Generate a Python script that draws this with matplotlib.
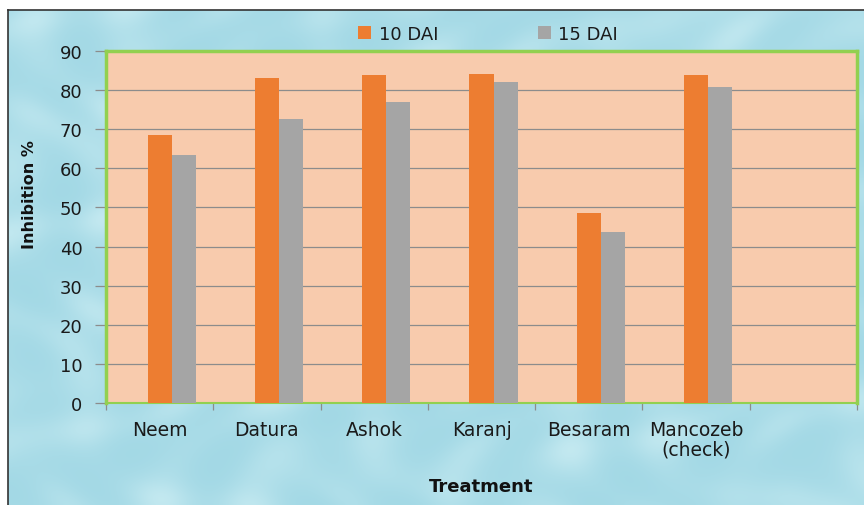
import numpy as np
import matplotlib
matplotlib.use("Agg")
import matplotlib.pyplot as plt

plt.rcParams['font.family'] = ['DejaVu Sans']

# Data
treatments = ["Neem", "Datura", "Ashok", "Karanj", "Besaram", "Mancozeb\n(check)", ""]
dai10 = [68.5, 83.1, 83.9, 84.0, 48.6, 83.8, None]
dai15 = [63.5, 72.6, 77.0, 82.0, 43.8, 80.9, None]
series_labels = ["10 DAI", "15 DAI"]
yticks = [0, 10, 20, 30, 40, 50, 60, 70, 80, 90]

W, H = 864, 506
fig = plt.figure(figsize=(W / 100, H / 100), dpi=100)
fig.patch.set_facecolor("white")

# Chart area background: soft aqua wash with a gentle ripple pattern
bg_ax = fig.add_axes([7.5 / W, 0, 1 - 7.5 / W, 1 - 10.5 / H], zorder=-10)
yy, xx = np.mgrid[0:200, 0:340]
base = np.zeros((200, 340, 3))
rip = (0.5 * np.sin(xx / 9.0 + np.sin(yy / 13.0) * 2.0) * np.sin(yy / 7.0 + np.cos(xx / 17.0) * 1.5)
       + 0.5 * np.sin((xx + yy) / 11.0) * np.cos((xx - yy) / 15.0))
c0 = np.array([0.64, 0.85, 0.90])
c1 = np.array([0.82, 0.94, 0.96])
t = (rip - rip.min()) / (rip.max() - rip.min())
t = t ** 2.0 * 0.7
for k in range(3):
    base[..., k] = c0[k] * (1 - t) + c1[k] * t
bg_ax.imshow(base, aspect="auto", interpolation="bicubic", extent=[0, 1, 0, 1])
bg_ax.set_xlim(0, 1)
bg_ax.set_ylim(0, 1)
bg_ax.set_xticks([])
bg_ax.set_yticks([])
for side in ("right", "bottom"):
    bg_ax.spines[side].set_visible(False)
for side in ("left", "top"):
    bg_ax.spines[side].set_color("#333333")
    bg_ax.spines[side].set_linewidth(1.2)

# Main plot
ax = fig.add_axes([106 / W, (H - 404) / H, 751 / W, 352 / H])
ax.set_facecolor("#F8CBAD")

n = len(treatments)
x = np.arange(n)
bw = 0.224
v10 = [np.nan if v is None else v for v in dai10]
v15 = [np.nan if v is None else v for v in dai15]
b1 = ax.bar(x, v10, width=bw, color="#ED7D31", label=series_labels[0], zorder=3)
b2 = ax.bar(x + bw, v15, width=bw, color="#A5A5A5", label=series_labels[1], zorder=3)

ax.set_xlim(-0.5, n - 0.5)
ax.set_ylim(0, 90)
ax.set_yticks(yticks)
ax.yaxis.grid(True, color="#8C8C8C", linewidth=0.9, zorder=1)
ax.set_axisbelow(True)

# Category labels centred, tick marks at category boundaries
ax.set_xticks(x)
ax.set_xticklabels(treatments, fontsize=13.5, color="#1a1a1a", linespacing=1.05)
ax.set_xticks(np.arange(-0.5, n + 0.5, 1.0), minor=True)
ax.tick_params(axis="x", which="major", length=0, pad=12)
ax.tick_params(axis="x", which="minor", length=5, color="#8C8C8C", width=0.9)
ax.tick_params(axis="y", length=8, color="#8C8C8C", width=0.9, pad=9,
               labelsize=13, labelcolor="#1a1a1a")

for side in ("left", "right", "top"):
    ax.spines[side].set_color("#92D050")
    ax.spines[side].set_linewidth(2.5)
ax.spines["bottom"].set_color("#92D050")
ax.spines["bottom"].set_linewidth(1.5)

fig.text(30 / W, 1 - 195 / H, "Inhibition %", rotation=90, ha="center", va="center",
         fontsize=11.5, fontweight="bold", color="#111111")
fig.text(481 / W, 1 - 487 / H, "Treatment", ha="center", va="center",
         fontsize=13, fontweight="bold", color="#111111")

fig.legend(handles=[b1, b2], labels=series_labels, loc="center",
           bbox_to_anchor=(488 / W, 1 - 35 / H), ncol=2, frameon=False,
           fontsize=13, handlelength=0.75, handleheight=0.75, handletextpad=0.4,
           columnspacing=5.5, labelcolor="#1a1a1a")

fig.savefig("out.png", dpi=100)
